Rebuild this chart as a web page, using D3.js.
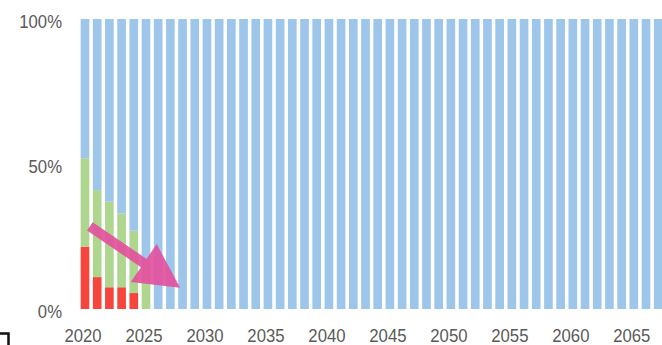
<!DOCTYPE html>
<html>
<head>
<meta charset="utf-8">
<script src="https://cdn.jsdelivr.net/npm/d3@7"></script>
<style>
  html, body { margin: 0; padding: 0; background: #fff; }
  svg { display: block; }
  text { font-family: "Liberation Sans", Arial, sans-serif; fill: #5a5a5a; }
</style>
</head>
<body>
<svg id="chart" width="662" height="345"></svg>
<script>
const years = [2020,2021,2022,2023,2024,2025,2026,2027,2028,2029,2030,2031,2032,2033,2034,2035,2036,2037,2038,2039,2040,2041,2042,2043,2044,2045,2046,2047,2048,2049,2050,2051,2052,2053,2054,2055,2056,2057,2058,2059,2060,2061,2062,2063,2064,2065,2066,2067];
const redShare   = [21.5,11,7.5,7.5,5.5,0, 0,0,0,0,0,0,0,0,0,0,0,0,0,0,0,0,0,0,0,0,0,0,0,0,0,0,0,0,0,0,0,0,0,0,0,0,0,0,0,0,0,0];
const greenShare = [30.5,30,29.5,25.5,21.5,16, 0,0,0,0,0,0,0,0,0,0,0,0,0,0,0,0,0,0,0,0,0,0,0,0,0,0,0,0,0,0,0,0,0,0,0,0,0,0,0,0,0,0];
const blueShare  = [48,59,63,67,73,84, 100,100,100,100,100,100,100,100,100,100,100,100,100,100,100,100,100,100,100,100,100,100,100,100,100,100,100,100,100,100,100,100,100,100,100,100,100,100,100,100,100,100];
const xTickLabels = [2020,2025,2030,2035,2040,2045,2050,2055,2060,2065];
const yTickValues = [0, 50, 100];
const arrowFrom = {year: 2020.4, value: 28.5};
const arrowTo   = {year: 2027.8, value: 7.3};

const colors = {red: "#f5453d", green: "#aed68f", blue: "#9ec5ea", arrow: "#e2519d"};

const svg = d3.select("#chart");
const x = d3.scaleBand().domain(years).range([78.9, 664.3]).paddingInner(0.29).paddingOuter(0.145);
const y = d3.scaleLinear().domain([0, 100]).range([309, 19]);

const rows = years.map((yr, i) => ({year: yr, red: redShare[i], green: greenShare[i], blue: blueShare[i]}));
const stack = d3.stack().keys(["red", "green", "blue"]);
const series = stack(rows);

svg.append("g").selectAll("g").data(series).join("g")
  .attr("fill", d => colors[d.key])
  .selectAll("rect").data(d => d).join("rect")
  .attr("x", d => x(d.data.year))
  .attr("width", x.bandwidth())
  .attr("y", d => y(d[1]))
  .attr("height", d => Math.max(0, y(d[0]) - y(d[1])));

// x axis labels
const xAxis = d3.axisBottom(x).tickValues(xTickLabels).tickSize(0).tickPadding(0);
const gx = svg.append("g").attr("transform", "translate(-2,335.5)").call(xAxis);
gx.select(".domain").remove();
gx.attr("font-family", null).attr("font-size", null);
gx.selectAll("text").attr("font-size", 19).attr("dy", "0.35em").attr("fill", "#5a5a5a")
  .attr("y", 0).attr("transform", "scale(0.88,1)");

// y axis labels
const yAxis = d3.axisLeft(y).tickValues(yTickValues).tickFormat(d => d + "%").tickSize(0).tickPadding(0);
const gy = svg.append("g").attr("transform", "translate(62,2)").call(yAxis);
gy.select(".domain").remove();
gy.attr("font-family", null).attr("font-size", null);
gy.selectAll("text").attr("font-size", 19).attr("fill", "#5a5a5a").attr("x", 0)
  .attr("transform", "scale(0.88,1)");

// arrow annotation
const xPos = yr => {
  const i = yr - years[0];
  return x(years[0]) + x.bandwidth() / 2 + i * x.step();
};
const p0 = [xPos(arrowFrom.year), y(arrowFrom.value)];
const p1 = [xPos(arrowTo.year), y(arrowTo.value)];
const dx = p1[0] - p0[0], dy = p1[1] - p0[1];
const len = Math.hypot(dx, dy);
const u = [dx / len, dy / len], n = [-u[1], u[0]];
const headLen = 44, headHalf = 23, shaftHalf = 5;
const base = [p1[0] - u[0] * headLen, p1[1] - u[1] * headLen];
const pts = [
  [p0[0] + n[0] * shaftHalf, p0[1] + n[1] * shaftHalf],
  [base[0] + n[0] * shaftHalf, base[1] + n[1] * shaftHalf],
  [base[0] + n[0] * headHalf, base[1] + n[1] * headHalf],
  p1,
  [base[0] - n[0] * headHalf, base[1] - n[1] * headHalf],
  [base[0] - n[0] * shaftHalf, base[1] - n[1] * shaftHalf],
  [p0[0] - n[0] * shaftHalf, p0[1] - n[1] * shaftHalf]
];
svg.append("path")
  .attr("d", d3.line()(pts) + "Z")
  .attr("fill", colors.arrow)
  .attr("fill-opacity", 0.92);

// corner mark at bottom-left
svg.append("path")
  .attr("d", d3.line()([[0, 333.5], [8.5, 333.5], [8.5, 345]]))
  .attr("fill", "none")
  .attr("stroke", "#111")
  .attr("stroke-width", 2.5);
</script>
</body>
</html>
